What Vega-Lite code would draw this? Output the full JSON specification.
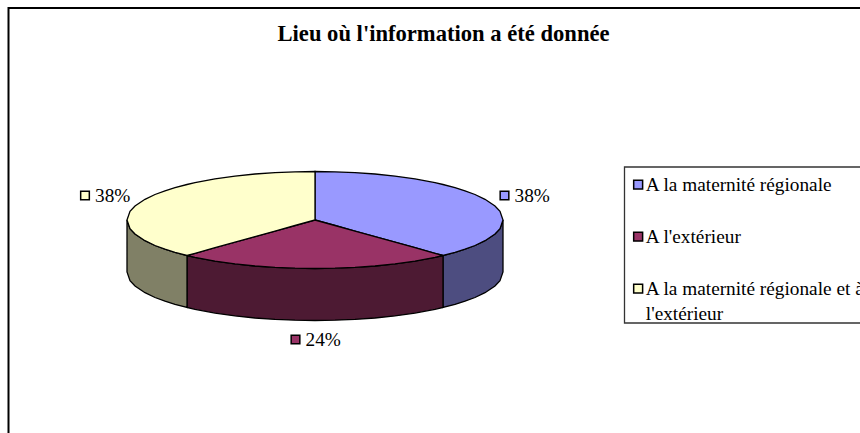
{
"$schema":"https://vega.github.io/schema/vega-lite/v6.json",
"width":860,"height":433,"padding":0,"autosize":{"type":"none"},
"background":"white",
"title":{"text":"Lieu où l'information a été donnée","font":"Liberation Serif","fontSize":22.6,"fontWeight":"bold","color":"black","anchor":"middle","dx":13.5,"dy":46,"offset":0},
"config":{"view":{"stroke":null},"font":"Liberation Serif"},
"datasets":{
"frame":[{"x":8.5,"y":433,"o":1},{"x":8.5,"y":8,"o":2},{"x":860,"y":8,"o":3}],
"box":[{"x":624.5,"x2":875,"y":167,"y2":323}],
"top":[
{"slice":"A la maternité régionale","x":315,"y":171.5,"y2":220},{"slice":"A la maternité régionale","x":335,"y":171.8,"y2":225.5},{"slice":"A la maternité régionale","x":355,"y":172.6,"y2":231.1},{"slice":"A la maternité régionale","x":375,"y":174,"y2":236.6},{"slice":"A la maternité régionale","x":395,"y":176.1,"y2":242.2},{"slice":"A la maternité régionale","x":415,"y":178.9,"y2":247.7},{"slice":"A la maternité régionale","x":435,"y":182.7,"y2":253.3},{"slice":"A la maternité régionale","x":443,"y":184.5,"y2":255.5},{"slice":"A la maternité régionale","x":455,"y":187.6,"y2":252.4},{"slice":"A la maternité régionale","x":465,"y":190.8,"y2":249.2},{"slice":"A la maternité régionale","x":475,"y":194.5,"y2":245.5},{"slice":"A la maternité régionale","x":485,"y":199.3,"y2":240.7},{"slice":"A la maternité régionale","x":495,"y":206,"y2":234},{"slice":"A la maternité régionale","x":500,"y":211.4,"y2":228.6},{"slice":"A la maternité régionale","x":503,"y":220,"y2":220},
{"slice":"A l'extérieur","x":187,"y":255.5,"y2":255.5},{"slice":"A l'extérieur","x":195,"y":253.3,"y2":257.3},{"slice":"A l'extérieur","x":215,"y":247.7,"y2":261.1},{"slice":"A l'extérieur","x":235,"y":242.2,"y2":263.9},{"slice":"A l'extérieur","x":255,"y":236.6,"y2":266},{"slice":"A l'extérieur","x":275,"y":231.1,"y2":267.4},{"slice":"A l'extérieur","x":295,"y":225.5,"y2":268.2},{"slice":"A l'extérieur","x":315,"y":220,"y2":268.5},{"slice":"A l'extérieur","x":335,"y":225.5,"y2":268.2},{"slice":"A l'extérieur","x":355,"y":231.1,"y2":267.4},{"slice":"A l'extérieur","x":375,"y":236.6,"y2":266},{"slice":"A l'extérieur","x":395,"y":242.2,"y2":263.9},{"slice":"A l'extérieur","x":415,"y":247.7,"y2":261.1},{"slice":"A l'extérieur","x":435,"y":253.3,"y2":257.3},{"slice":"A l'extérieur","x":443,"y":255.5,"y2":255.5},
{"slice":"A la maternité régionale et à|l'extérieur","x":127,"y":220,"y2":220},{"slice":"A la maternité régionale et à|l'extérieur","x":130,"y":211.4,"y2":228.6},{"slice":"A la maternité régionale et à|l'extérieur","x":135,"y":206,"y2":234},{"slice":"A la maternité régionale et à|l'extérieur","x":145,"y":199.3,"y2":240.7},{"slice":"A la maternité régionale et à|l'extérieur","x":155,"y":194.5,"y2":245.5},{"slice":"A la maternité régionale et à|l'extérieur","x":165,"y":190.8,"y2":249.2},{"slice":"A la maternité régionale et à|l'extérieur","x":175,"y":187.6,"y2":252.4},{"slice":"A la maternité régionale et à|l'extérieur","x":187,"y":184.5,"y2":255.5},{"slice":"A la maternité régionale et à|l'extérieur","x":195,"y":182.7,"y2":253.3},{"slice":"A la maternité régionale et à|l'extérieur","x":215,"y":178.9,"y2":247.7},{"slice":"A la maternité régionale et à|l'extérieur","x":235,"y":176.1,"y2":242.2},{"slice":"A la maternité régionale et à|l'extérieur","x":255,"y":174,"y2":236.6},{"slice":"A la maternité régionale et à|l'extérieur","x":275,"y":172.6,"y2":231.1},{"slice":"A la maternité régionale et à|l'extérieur","x":295,"y":171.8,"y2":225.5},{"slice":"A la maternité régionale et à|l'extérieur","x":315,"y":171.5,"y2":220}
],
"side":[
{"slice":"blue","x":443,"y":255.5,"y2":307.5},{"slice":"blue","x":455,"y":252.4,"y2":304.4},{"slice":"blue","x":465,"y":249.2,"y2":301.2},{"slice":"blue","x":475,"y":245.5,"y2":297.5},{"slice":"blue","x":485,"y":240.7,"y2":292.7},{"slice":"blue","x":495,"y":234,"y2":286},{"slice":"blue","x":500,"y":228.6,"y2":280.6},{"slice":"blue","x":503,"y":220,"y2":272},
{"slice":"maroon","x":187,"y":255.5,"y2":307.5},{"slice":"maroon","x":195,"y":257.3,"y2":309.3},{"slice":"maroon","x":215,"y":261.1,"y2":313.1},{"slice":"maroon","x":235,"y":263.9,"y2":315.9},{"slice":"maroon","x":255,"y":266,"y2":318},{"slice":"maroon","x":275,"y":267.4,"y2":319.4},{"slice":"maroon","x":295,"y":268.2,"y2":320.2},{"slice":"maroon","x":315,"y":268.5,"y2":320.5},{"slice":"maroon","x":335,"y":268.2,"y2":320.2},{"slice":"maroon","x":355,"y":267.4,"y2":319.4},{"slice":"maroon","x":375,"y":266,"y2":318},{"slice":"maroon","x":395,"y":263.9,"y2":315.9},{"slice":"maroon","x":415,"y":261.1,"y2":313.1},{"slice":"maroon","x":435,"y":257.3,"y2":309.3},{"slice":"maroon","x":443,"y":255.5,"y2":307.5},
{"slice":"yellow","x":127,"y":220,"y2":272},{"slice":"yellow","x":130,"y":228.6,"y2":280.6},{"slice":"yellow","x":135,"y":234,"y2":286},{"slice":"yellow","x":145,"y":240.7,"y2":292.7},{"slice":"yellow","x":155,"y":245.5,"y2":297.5},{"slice":"yellow","x":165,"y":249.2,"y2":301.2},{"slice":"yellow","x":175,"y":252.4,"y2":304.4},{"slice":"yellow","x":187,"y":255.5,"y2":307.5}
],
"labels":[
{"slice":"A la maternité régionale","share":"38%","x":504.5,"y":195.5},
{"slice":"A l'extérieur","share":"24%","x":295.5,"y":339.5},
{"slice":"A la maternité régionale et à|l'extérieur","share":"38%","x":85,"y":195.5}
]
},
"layer":[
{"data":{"name":"frame"},"mark":{"type":"line","stroke":"black","strokeWidth":2},
 "encoding":{"x":{"field":"x","type":"quantitative","scale":{"domain":[0,860],"nice":false,"zero":false},"axis":null},"y":{"field":"y","type":"quantitative","scale":{"domain":[433,0],"nice":false,"zero":false},"axis":null},"order":{"field":"o"}}},
{"data":{"name":"box"},"mark":{"type":"rect","filled":false,"stroke":"#333333","strokeWidth":1.3},
 "encoding":{"x":{"field":"x","type":"quantitative","scale":{"domain":[0,860],"nice":false,"zero":false},"axis":null},"x2":{"field":"x2"},"y":{"field":"y","type":"quantitative","scale":{"domain":[433,0],"nice":false,"zero":false},"axis":null},"y2":{"field":"y2"}}},
{"data":{"name":"side"},"mark":{"type":"area","stroke":"black","strokeWidth":1.3,"interpolate":"linear"},
 "encoding":{"x":{"field":"x","type":"quantitative","scale":{"domain":[0,860],"nice":false,"zero":false},"axis":null},"y":{"field":"y","type":"quantitative","scale":{"domain":[433,0],"nice":false,"zero":false},"stack":null,"axis":null},"y2":{"field":"y2"},
  "fill":{"field":"slice","type":"nominal","legend":null,"scale":{"domain":["blue","maroon","yellow"],"range":["#4D4D80","#4D1A33","#808066"]}}}},
{"data":{"name":"top"},"mark":{"type":"area","stroke":"black","strokeWidth":1.3,"interpolate":"linear"},
 "encoding":{"x":{"field":"x","type":"quantitative","scale":{"domain":[0,860],"nice":false,"zero":false},"axis":null},"y":{"field":"y","type":"quantitative","scale":{"domain":[433,0],"nice":false,"zero":false},"stack":null,"axis":null},"y2":{"field":"y2"},
  "fill":{"field":"slice","type":"nominal","title":null,"scale":{"domain":["A la maternité régionale","A l'extérieur","A la maternité régionale et à|l'extérieur"],"range":["#9999FF","#993366","#FFFFCC"]},
   "legend":{"orient":"none","legendX":624.5,"legendY":167,"padding":8,"symbolType":"square","symbolSize":80,"symbolOffset":-4,"symbolStrokeColor":"black","symbolStrokeWidth":1.5,"labelFont":"Liberation Serif","labelFontSize":19.3,"labelColor":"black","labelLimit":400,"labelOffset":-2,"rowPadding":32,"labelExpr":"split(datum.label,'|')","encode":{"labels":{"update":{"lineHeight":{"value":25}}}}}}}},
{"data":{"name":"labels"},"mark":{"type":"point","shape":"square","size":75,"filled":true,"stroke":"black","strokeWidth":1.5,"opacity":1},
 "encoding":{"x":{"field":"x","type":"quantitative","scale":{"domain":[0,860],"nice":false,"zero":false},"axis":null},"y":{"field":"y","type":"quantitative","scale":{"domain":[433,0],"nice":false,"zero":false},"axis":null},
  "fill":{"field":"slice","type":"nominal","legend":null,"scale":{"domain":["A la maternité régionale","A l'extérieur","A la maternité régionale et à|l'extérieur"],"range":["#9999FF","#993366","#FFFFCC"]}}}},
{"data":{"name":"labels"},"mark":{"type":"text","align":"left","baseline":"middle","dx":10,"font":"Liberation Serif","fontSize":19.3,"color":"black"},
 "encoding":{"x":{"field":"x","type":"quantitative","scale":{"domain":[0,860],"nice":false,"zero":false},"axis":null},"y":{"field":"y","type":"quantitative","scale":{"domain":[433,0],"nice":false,"zero":false},"axis":null},"text":{"field":"share"}}}
],
"resolve":{"scale":{"fill":"independent"}}
}
